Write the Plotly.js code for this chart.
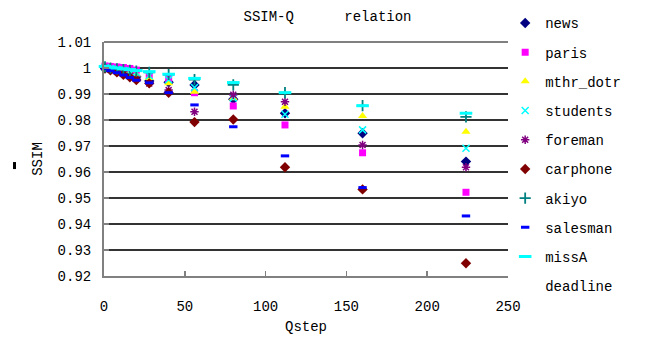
<!DOCTYPE html>
<html>
<head>
<meta charset="utf-8">
<script src="https://cdn.plot.ly/plotly-3.0.1.min.js"></script>
<style>html,body{margin:0;padding:0;background:#fff;}#chart{width:655px;height:347px;}</style>
</head>
<body>
<div id="chart"></div>
<script>
// Qstep values (x)
const qstep = [0.625, 4, 8, 12, 16, 20, 28, 40, 56, 80, 112, 160, 224];

// SSIM values per sequence
const news     = [1.0000, 0.9994, 0.9988, 0.9982, 0.9975, 0.9966, 0.9950, 0.9945, 0.9935, 0.9880, 0.9826, 0.9749, 0.9640];
const paris    = [1.0008, 1.0006, 1.0004, 1.0002, 0.9998, 0.9992, 0.9973, 0.9960, 0.9905, 0.9854, 0.9781, 0.9674, 0.9522];
const mthrDotr = [1.0000, 0.9995, 0.9990, 0.9985, 0.9980, 0.9974, 0.9962, 0.9941, 0.9909, 0.9884, 0.9851, 0.9815, 0.9755];
const students = [1.0002, 0.9998, 0.9994, 0.9990, 0.9986, 0.9982, 0.9970, 0.9955, 0.9925, 0.9885, 0.9822, 0.9762, 0.9691];
const foreman  = [1.0000, 0.9993, 0.9986, 0.9977, 0.9968, 0.9958, 0.9940, 0.9915, 0.9832, 0.9897, 0.9870, 0.9704, 0.9618];
const carphone = [0.9998, 0.9991, 0.9983, 0.9974, 0.9964, 0.9954, 0.9941, 0.9905, 0.9792, 0.9802, 0.9618, 0.9533, 0.9249];
const akiyo    = [1.0004, 1.0000, 0.9997, 0.9994, 0.9991, 0.9988, 0.9983, 0.9975, 0.9955, 0.9935, 0.9905, 0.9855, 0.9812];
const salesman = [0.9998, 0.9990, 0.9982, 0.9973, 0.9963, 0.9953, 0.9943, 0.9905, 0.9858, 0.9774, 0.9662, 0.9540, 0.9431];
const missA    = [1.0006, 1.0003, 1.0000, 0.9997, 0.9994, 0.9990, 0.9986, 0.9976, 0.9960, 0.9944, 0.9905, 0.9855, 0.9826];

const seriesNames = ['news', 'paris', 'mthr_dotr', 'students', 'foreman', 'carphone', 'akiyo', 'salesman', 'missA', 'deadline'];
const yTicks = [0.92, 0.93, 0.94, 0.95, 0.96, 0.97, 0.98, 0.99, 1.00, 1.01];
const xTicks = [0, 50, 100, 150, 200, 250];

const FONT = '"Liberation Mono", "DejaVu Sans Mono", monospace';

function mk(name, y, symbol, color, size, lineOnly, lw) {
  const marker = {symbol: symbol, size: size, color: color};
  if (lineOnly) marker.line = {color: color, width: lw || 1.5};
  else marker.line = {width: 0};
  return {x: qstep, y: y, name: name, type: 'scatter', mode: 'markers',
          marker: marker, legendgroup: name, cliponaxis: false};
}

const traces = [
  mk(seriesNames[0], news, 'diamond', '#000080', 8),
  mk(seriesNames[1], paris, 'square', '#FF00FF', 7),
  mk(seriesNames[2], mthrDotr, 'triangle-up', '#FFFF00', 8),
  mk(seriesNames[3], students, 'x-thin-open', '#00FFFF', 7, true, 1.5),
  mk(seriesNames[4], foreman, 'asterisk-open', '#800080', 7, true, 1.5),
  mk(seriesNames[5], carphone, 'diamond', '#800000', 8),
  mk(seriesNames[6], akiyo, 'cross-thin-open', '#008080', 8, true, 1.8),
  mk(seriesNames[7], salesman, 'line-ew-open', '#0000FF', 6, true, 3),
  mk(seriesNames[8], missA, 'line-ew-open', '#00FFFF', 9, true, 3),
  {x: [null], y: [null], name: seriesNames[9], type: 'scatter', mode: 'markers',
   marker: {color: 'rgba(0,0,0,0)', size: 1}, legendgroup: 'deadline'}
];

const layout = {
  width: 655, height: 347,
  margin: {l: 104, r: 147, t: 42, b: 71, autoexpand: false},
  paper_bgcolor: '#ffffff', plot_bgcolor: '#ffffff',
  font: {family: FONT, size: 14, color: '#000'},
  title: {text: 'SSIM-Q\u00a0\u00a0\u00a0\u00a0\u00a0\u00a0relation', x: 0.5, xref: 'container',
          y: 0.955, yref: 'container', yanchor: 'middle', font: {family: FONT, size: 14, color: '#000'}},
  xaxis: {range: [0, 250], tickvals: xTicks, ticktext: xTicks.map(String),
          showgrid: false, zeroline: false, showline: true, linecolor: '#808080', linewidth: 2,
          ticks: 'inside', ticklen: 5, tickcolor: '#808080', tickwidth: 1.5,
          ticklabelstandoff: 16, tickfont: {family: FONT, size: 14},
          title: {text: 'Qstep', standoff: 7, font: {family: FONT, size: 14}}},
  yaxis: {range: [0.92, 1.01], tickvals: yTicks, ticktext: yTicks.map(v => String(+v.toFixed(2))),
          showgrid: true, gridcolor: '#333333', gridwidth: 1.5, zeroline: false,
          showline: true, linecolor: '#808080', linewidth: 2, mirror: false,
          ticks: 'inside', ticklen: 5, tickcolor: '#808080', tickwidth: 1.5,
          ticklabelstandoff: 8, tickfont: {family: FONT, size: 14},
          title: {text: 'SSIM', standoff: 12, font: {family: FONT, size: 14}}},
  legend: {x: 0.993, xanchor: 'left', y: 1.148, yanchor: 'top', bgcolor: 'rgba(0,0,0,0)',
           font: {family: FONT, size: 14, color: '#000'}, traceorder: 'grouped', tracegroupgap: 8,
           itemwidth: 30, maxheight: 345},
  shapes: [
    {type: 'rect', xref: 'paper', yref: 'paper', x0: -0.2252, x1: -0.2178, y0: 0.457, y1: 0.487,
     fillcolor: '#000', line: {width: 0}},
    {type: 'line', xref: 'paper', yref: 'paper', x0: 0, x1: 1, y0: 1, y1: 1,
     line: {color: '#808080', width: 2}}
  ],
  showlegend: true
};

Plotly.newPlot('chart', traces, layout, {displayModeBar: false, staticPlot: true});
</script>
</body>
</html>
